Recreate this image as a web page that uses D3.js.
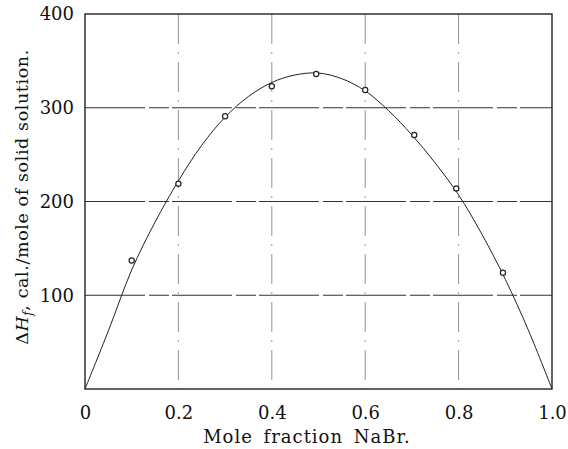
<!DOCTYPE html>
<html>
<head>
<meta charset="utf-8">
<script src="https://cdn.jsdelivr.net/npm/d3@7"></script>
<style>
  body { margin: 0; background: #fff; }
  svg text { font-family: "DejaVu Serif", "Liberation Serif", serif; fill: #111; }
</style>
</head>
<body>
<script>
"use strict";

// measured points (mole fraction NaBr, heat of formation)
const pointX = [0.1, 0.2, 0.3, 0.4, 0.495, 0.6, 0.705, 0.795, 0.895];
const pointY = [137, 219, 291, 323, 336, 319, 271, 214, 124];

// smooth curve drawn through them
const curveX = [0, 0.05, 0.1, 0.15, 0.2, 0.25, 0.3, 0.35, 0.4, 0.45, 0.5, 0.55, 0.6, 0.65, 0.7, 0.75, 0.8, 0.85, 0.9, 0.95, 1.0];
const curveY = [0, 62, 127, 178, 222, 260, 290, 312, 327, 335, 337, 331, 318, 297, 271, 241, 207, 165, 117, 62, 0];

const xTicks = [0, 0.2, 0.4, 0.6, 0.8, 1.0];
const yTicks = [100, 200, 300, 400];

const W = 568, H = 449;
const margin = {left: 85, right: 16, top: 14, bottom: 60};

const svg = d3.select("body").append("svg")
    .attr("width", W)
    .attr("height", H);

const x = d3.scaleLinear().domain([0, 1]).range([margin.left, W - margin.right]);
const y = d3.scaleLinear().domain([0, 400]).range([H - margin.bottom, margin.top]);

// grid lines
svg.append("g").selectAll("line")
    .data(xTicks.slice(1, -1))
    .enter().append("line")
    .attr("x1", d => x(d)).attr("x2", d => x(d))
    .attr("y1", y(400)).attr("y2", y(0))
    .attr("stroke", "#777")
    .attr("stroke-width", 0.8)
    .attr("stroke-dasharray", "30,8,2,8");

svg.append("g").selectAll("line")
    .data(yTicks.slice(0, -1))
    .enter().append("line")
    .attr("x1", x(0)).attr("x2", x(1))
    .attr("y1", d => y(d)).attr("y2", d => y(d))
    .attr("stroke", "#333")
    .attr("stroke-width", 1.1)
    .attr("stroke-dasharray", "60,4,20,3");

// frame
svg.append("rect")
    .attr("x", x(0)).attr("y", y(400))
    .attr("width", x(1) - x(0)).attr("height", y(0) - y(400))
    .attr("fill", "none")
    .attr("stroke", "#222")
    .attr("stroke-width", 1.4);

// axes (labels only, frame drawn above)
const xAxis = d3.axisBottom(x).tickValues(xTicks)
    .tickFormat(d => d === 0 ? "0" : d3.format(".1f")(d))
    .tickSize(0).tickPadding(17);
const gx = svg.append("g").attr("transform", "translate(0," + y(0) + ")").call(xAxis);
gx.select(".domain").remove();
gx.selectAll("text").attr("font-size", 18).attr("font-family", "DejaVu Serif");

const yAxis = d3.axisLeft(y).tickValues(yTicks).tickSize(0).tickPadding(11);
const gy = svg.append("g").attr("transform", "translate(" + x(0) + ",0)").call(yAxis);
gy.select(".domain").remove();
gy.selectAll("text").attr("font-size", 18).attr("font-family", "DejaVu Serif");

// curve
const line = d3.line()
    .x((d, i) => x(curveX[i]))
    .y(d => y(d))
    .curve(d3.curveCatmullRom);

svg.append("path")
    .datum(curveY)
    .attr("d", line)
    .attr("fill", "none")
    .attr("stroke", "#222")
    .attr("stroke-width", 1);

// points
svg.append("g").selectAll("circle")
    .data(pointY)
    .enter().append("circle")
    .attr("cx", (d, i) => x(pointX[i]))
    .attr("cy", d => y(d))
    .attr("r", 2.6)
    .attr("fill", "#fff")
    .attr("stroke", "#222")
    .attr("stroke-width", 1.2);

// axis titles
svg.append("text")
    .attr("x", 307)
    .attr("y", 443)
    .attr("text-anchor", "middle")
    .attr("font-size", 18)
    .attr("letter-spacing", 1)
    .attr("word-spacing", 4)
    .text("Mole fraction NaBr.");

const yt = svg.append("text")
    .attr("transform", "translate(28,197) rotate(-90)")
    .attr("text-anchor", "middle")
    .attr("font-size", 17.5)
    .attr("letter-spacing", 0.6);
yt.append("tspan").text("Δ");
yt.append("tspan").attr("font-style", "italic").text("H");
yt.append("tspan").attr("font-style", "italic").attr("font-size", 12).attr("dy", 4).text("f");
yt.append("tspan").attr("dy", -4).text(", cal./mole of solid solution.");
</script>
</body>
</html>
